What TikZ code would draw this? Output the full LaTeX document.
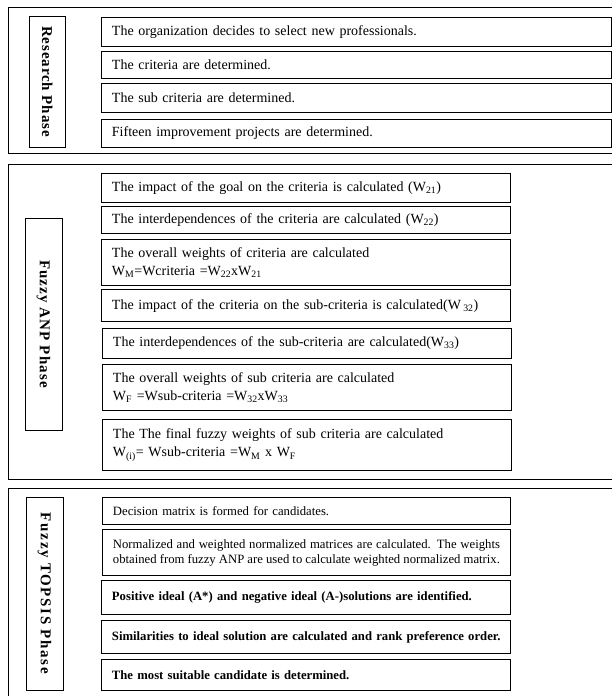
\documentclass[tikz,border=0pt]{standalone}
\usepackage{fontspec}
\setmainfont{Liberation Serif}
\newcommand\fsA{\fontsize{14}{18}\selectfont}
\newcommand\fsB{\fontsize{12.7}{15}\selectfont}
\newcommand\fsP{\fontsize{15}{18}\selectfont\bfseries}
\newcommand\Wsub[1]{W\textsubscript{#1}}
\begin{document}
\begin{tikzpicture}[x=1pt,y=-1pt,
  panel/.style={draw, line width=0.8pt},
  stepbox/.style={draw, line width=0.9pt, anchor=north west, inner xsep=10pt, inner ysep=0pt, align=left, font=\fsA},
  phase/.style={draw, line width=0.9pt, rotate=-90, inner sep=0pt, font=\fsP},
]
\useasboundingbox (0,0) rectangle (612,696);
\clip (0,0) rectangle (612,696);

% panels
\draw[panel] (8,7) rectangle (640,153);
\draw[panel] (8,164) rectangle (640,479);
\draw[panel] (8,488) rectangle (640,720);

% phase labels
\node[phase, minimum width=131pt, minimum height=36.7pt] (p1) at (47.3,81.5) {\addfontfeature{LetterSpace=6}Research Phase};
\node[phase, minimum width=212pt, minimum height=37pt] (p2) at (43.5,324) {\addfontfeature{LetterSpace=7.5}Fuzzy ANP Phase};
\node[phase, minimum width=193pt, minimum height=37pt] (p3) at (44.5,593.5) {\addfontfeature{LetterSpace=11}Fuzzy TOPSIS Phase};

% research phase
\node[stepbox, minimum width=510pt, minimum height=29.3pt, text width=489pt] (r1) at (101,16.7) {The organization decides to select new professionals.};
\node[stepbox, minimum width=510pt, minimum height=26.7pt, text width=489pt] (r2) at (101,51) {The criteria are determined.};
\node[stepbox, minimum width=510pt, minimum height=29pt, text width=489pt] (r3) at (101,83) {The sub criteria are determined.};
\node[stepbox, minimum width=510pt, minimum height=28pt, text width=489pt] (r4) at (101,119) {\raisebox{-4pt}{Fifteen improvement projects are determined.}};

% fuzzy ANP phase
\node[stepbox, minimum width=409pt, minimum height=29pt, text width=388pt] (a1) at (101,172.7) {The impact of the goal on the criteria is calculated (\Wsub{21})};
\node[stepbox, minimum width=409pt, minimum height=27.3pt, text width=388pt] (a2) at (101,206) {The interdependences of the criteria are calculated (\Wsub{22})};
\node[stepbox, minimum width=409pt, minimum height=46.6pt, text width=388pt] (a3) at (101,238.7) {The overall weights of criteria are calculated\\\Wsub{M}=Wcriteria =\Wsub{22}x\Wsub{21}};
\node[stepbox, minimum width=409pt, minimum height=31.7pt, text width=388pt] (a4) at (101,289.3) {The impact of the criteria on the sub-criteria is calculated(W\,\textsubscript{32})};
\node[stepbox, minimum width=409pt, minimum height=30pt, text width=388pt] (a5) at (102,327.7) {The interdependences of the sub-criteria are calculated(\Wsub{33})};
\node[stepbox, minimum width=409pt, minimum height=46pt, text width=388pt] (a6) at (102,364) {The overall weights of sub criteria are calculated\\\Wsub{F} =Wsub-criteria =\Wsub{32}x\Wsub{33}};
\node[stepbox, minimum width=409pt, minimum height=50.7pt, text width=388pt] (a7) at (102,419.3) {The The final fuzzy weights of sub criteria are calculated\\\Wsub{(i)}= Wsub-criteria =\Wsub{M} x \Wsub{F}};

% fuzzy TOPSIS phase
\node[stepbox, font=\fsB, minimum width=408pt, minimum height=27pt, text width=387pt] (c1) at (102,497.3) {Decision matrix is formed for candidates.};
\node[stepbox, font=\fsB, align=justify, minimum width=408pt, minimum height=45.7pt, text width=387pt] (c2) at (102,529.3) {Normalized and weighted normalized matrices are calculated. The weights\linebreak obtained from fuzzy ANP are used to calculate weighted normalized matrix.};
\node[stepbox, font=\fsB\bfseries, minimum width=409pt, minimum height=34pt, text width=388pt] (c3) at (101,580.3) {Positive ideal (A*) and negative ideal (A-)solutions are identified.};
\node[stepbox, font=\fsB\bfseries, minimum width=409pt, minimum height=32.4pt, text width=388pt] (c4) at (101,620.3) {\mbox{Similarities to ideal solution are calculated and rank preference order.}};
\node[stepbox, font=\fsB\bfseries, minimum width=409pt, minimum height=31pt, text width=388pt] (c5) at (101,659) {The most suitable candidate is determined.};
\end{tikzpicture}
\end{document}
